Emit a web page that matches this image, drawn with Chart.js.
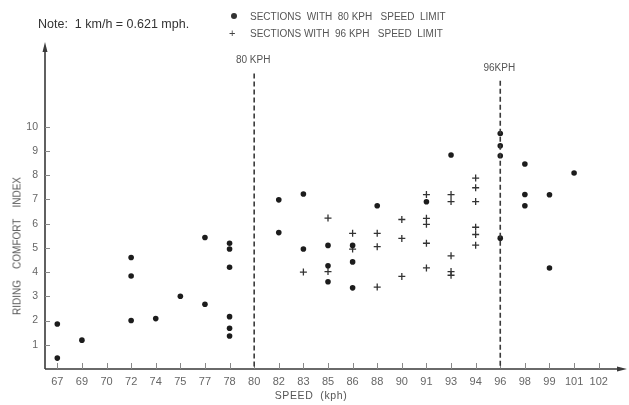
<!DOCTYPE html>
<html>
<head>
<meta charset="utf-8">
<script src="https://cdn.jsdelivr.net/npm/chart.js@4"></script>
<style>
  html, body { margin: 0; padding: 0; background: #fff; }
  #wrap { position: relative; width: 629px; height: 405px; font-family: 'Liberation Sans', Arial, sans-serif; color: #555; }
  #chart { position: absolute; left: 0; top: 0; }
  .note { position: absolute; left: 38px; top: 17px; font-size: 12.5px; color: #333; white-space: pre; }
  .leg { position: absolute; left: 250px; font-size: 10px; color: #555; white-space: pre; }
  .mk { position: absolute; left: 229px; font-size: 11px; color: #444; }
  .dot { position: absolute; left: 231px; top: 13px; width: 6px; height: 6px; border-radius: 50%; background: #333; }
  .ytitle { position: absolute; left: 17px; top: 246px; transform: translate(-50%, -50%) rotate(-90deg); font-size: 10px; white-space: pre; color: #555; }
  .xtitle { position: absolute; left: 311px; top: 389px; transform: translateX(-50%); font-size: 10.5px; white-space: pre; color: #555; letter-spacing: 0.6px; }
</style>
</head>
<body>
<div id="wrap">
  <canvas id="chart" width="629" height="405"></canvas>
  <div class="note">Note:  1 km/h = 0.621 mph.</div>
  <div class="dot"></div>
  <div class="leg" style="top:11px">SECTIONS  WITH  80 KPH   SPEED  LIMIT</div>
  <div class="mk" style="top:27px">+</div>
  <div class="leg" style="top:28px">SECTIONS WITH  96 KPH   SPEED  LIMIT</div>
  <div class="ytitle">RIDING    COMFORT    INDEX</div>
  <div class="xtitle">SPEED  (kph)</div>
</div>
<script>
const speeds = ['67', '69', '70', '72', '74', '75', '77', '78', '80', '82', '83', '85',
  '86', '88', '90', '91', '93', '94', '96', '98', '99', '101', '102'];
const yTicks = [1, 2, 3, 4, 5, 6, 7, 8, 9, 10];

// sections with 80 kph limit (dots)
const speed80 = ['67', '67', '69', '72', '72', '72', '74', '75', '77', '77',
  '78', '78', '78', '78', '78', '78', '82', '82', '83', '83',
  '85', '85', '85', '86', '86', '86', '88', '91', '93',
  '96', '96', '96', '96', '98', '98', '98', '99', '99', '101'];
const comfort80 = [1.86, 0.45, 1.19, 4.6, 3.84, 2.0, 2.08, 3.0, 5.43, 2.67,
  5.19, 4.95, 4.2, 2.16, 1.68, 1.36, 6.98, 5.63, 7.22, 4.95,
  5.1, 4.26, 3.6, 5.1, 4.42, 3.35, 6.74, 6.9, 8.83,
  9.72, 9.21, 8.8, 5.4, 8.46, 7.2, 6.74, 7.19, 4.17, 8.09];

// sections with 96 kph limit (crosses)
const speed96 = ['83', '85', '85', '86', '86', '88', '88', '88', '90', '90', '90',
  '91', '91', '91', '91', '91', '93', '93', '93', '93', '93',
  '94', '94', '94', '94', '94', '94'];
const comfort96 = [4.0, 6.23, 4.02, 5.6, 4.95, 5.6, 5.05, 3.38, 6.17, 5.39, 3.82,
  7.2, 6.22, 5.97, 5.19, 4.17, 7.2, 6.91, 4.67, 4.02, 3.87,
  7.88, 7.48, 6.91, 5.85, 5.55, 5.11];

const limitSpeeds = ['80', '96'];
const limitLabels = ['80 KPH', '96KPH'];
const limitTops = [12.2, 11.9];

const ink = '#3a3a3a';

const decor = {
  id: 'decor',
  afterDraw(chart) {
    const { ctx, chartArea: a, scales: { x, y } } = chart;
    ctx.save();
    ctx.strokeStyle = ink;
    ctx.fillStyle = ink;

    // axes with arrow heads
    ctx.lineWidth = 1.6;
    ctx.beginPath();
    ctx.moveTo(a.left, a.bottom);
    ctx.lineTo(a.left, 46);
    ctx.moveTo(a.left, a.bottom);
    ctx.lineTo(623, a.bottom);
    ctx.stroke();
    ctx.beginPath();
    ctx.moveTo(a.left, 42);
    ctx.lineTo(a.left - 2.5, 52);
    ctx.lineTo(a.left + 2.5, 52);
    ctx.closePath();
    ctx.moveTo(627, a.bottom);
    ctx.lineTo(617, a.bottom - 2.5);
    ctx.lineTo(617, a.bottom + 2.5);
    ctx.closePath();
    ctx.fill();

    // tick marks inside the axes
    ctx.lineWidth = 1;
    ctx.strokeStyle = '#888';
    ctx.beginPath();
    speeds.forEach((s, i) => {
      const px = Math.round(x.getPixelForValue(i)) + 0.5;
      ctx.moveTo(px, a.bottom);
      ctx.lineTo(px, a.bottom - 6);
    });
    yTicks.forEach(v => {
      const py = Math.round(y.getPixelForValue(v)) + 0.5;
      ctx.moveTo(a.left, py);
      ctx.lineTo(a.left + 5, py);
    });
    ctx.stroke();

    // speed limit lines
    ctx.strokeStyle = ink;
    ctx.lineWidth = 1.6;
    ctx.setLineDash([5, 3]);
    ctx.font = '10px "Liberation Sans", Arial, sans-serif';
    ctx.textAlign = 'center';
    limitSpeeds.forEach((s, i) => {
      const px = x.getPixelForValue(speeds.indexOf(s));
      const top = y.getPixelForValue(limitTops[i]);
      ctx.beginPath();
      ctx.moveTo(px, top);
      ctx.lineTo(px, a.bottom);
      ctx.stroke();
      ctx.fillStyle = '#555';
      ctx.fillText(limitLabels[i], px - 1, top - 10);
    });
    ctx.restore();
  }
};

new Chart(document.getElementById('chart'), {
  type: 'scatter',
  data: {
    labels: speeds,
    datasets: [
      {
        label: '80 kph',
        data: speed80.map((s, i) => ({ x: s, y: comfort80[i] })),
        pointStyle: 'circle',
        pointRadius: 2.8,
        backgroundColor: '#1c1c1c',
        borderWidth: 0
      },
      {
        label: '96 kph',
        data: speed96.map((s, i) => ({ x: s, y: comfort96[i] })),
        pointStyle: 'cross',
        pointRadius: 3.5,
        borderColor: '#333',
        borderWidth: 1.3
      }
    ]
  },
  plugins: [decor],
  options: {
    responsive: false,
    animation: false,
    layout: { padding: { top: 54, right: 18, left: 0, bottom: 0 } },
    plugins: { legend: { display: false }, tooltip: { enabled: false } },
    scales: {
      x: {
        type: 'category',
        offset: true,
        grid: { display: false, drawTicks: false, tickLength: 0 },
        border: { display: false },
        ticks: { color: '#666', padding: 6, maxRotation: 0, autoSkip: false,
          font: { family: '"Liberation Sans", Arial, sans-serif', size: 11 } },
        afterFit: s => { s.height = 36; }
      },
      y: {
        type: 'linear',
        min: 0,
        max: 13,
        grid: { display: false, drawTicks: false, tickLength: 0 },
        border: { display: false },
        afterBuildTicks: s => { s.ticks = yTicks.map(v => ({ value: v })); },
        ticks: { color: '#666', padding: 7,
          font: { family: '"Liberation Sans", Arial, sans-serif', size: 10.5 } },
        afterFit: s => { s.width = 45; }
      }
    }
  }
});
</script>
</body>
</html>
